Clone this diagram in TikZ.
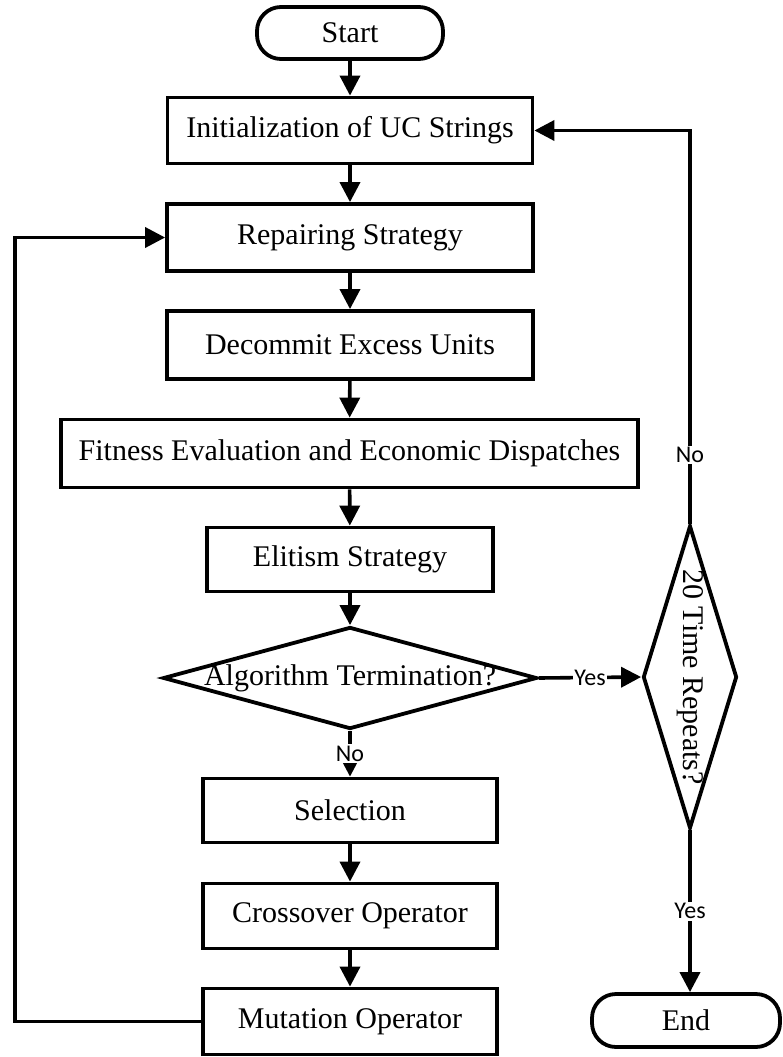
\documentclass[tikz,border=0pt]{standalone}
\usepackage{fontspec}
\setmainfont{Liberation Serif}
\newfontfamily\labelfont{Carlito}
\usetikzlibrary{arrows.meta,shapes.geometric}

\begin{document}
\begin{tikzpicture}[x=1pt,y=-1pt,
  every node/.style={font=\fontsize{30}{36}\selectfont},
  box/.style={draw, line width=3.8pt, rectangle, inner sep=0pt},
  term/.style={draw, line width=3.8pt, rectangle, rounded corners=24pt, inner sep=0pt},
  decision/.style={draw, line width=3.8pt, diamond, inner sep=0pt},
  arr/.style={-{Triangle[length=20pt,width=20pt]}, line width=3.6pt},
  lbl/.style={fill=white, inner sep=1.5pt, font=\labelfont\fontsize{24}{26}\selectfont}]

\useasboundingbox (0,0) rectangle (782,1057);

% main column
\node[term, minimum width=186pt, minimum height=52pt] (start) at (350,33) {Start};
\node[box, minimum width=365pt, minimum height=66pt] (init) at (350,130.5) {Initialization of UC Strings};
\node[box, minimum width=366pt, minimum height=67pt] (repair) at (350,237.5) {Repairing Strategy};
\node[box, minimum width=366pt, minimum height=68pt] (decommit) at (350,345) {Decommit Excess Units};
\node[box, minimum width=577pt, minimum height=68pt] (fitness) at (349.5,453.5) {Fitness Evaluation and Economic Dispatches};
\node[box, minimum width=286pt, minimum height=64pt] (elitism) at (350,559.5) {Elitism Strategy};
\node[decision, minimum width=374pt, minimum height=102pt,
      label={center:Algorithm Termination?}] (alg) at (350,678) {};
\node[box, minimum width=294pt, minimum height=64pt] (select) at (350,810.5) {Selection};
\node[box, minimum width=294pt, minimum height=65pt] (cross) at (350,916) {Crossover Operator};
\node[box, minimum width=294pt, minimum height=66pt] (mutate) at (350,1021.5) {Mutation Operator};

% right column
\node[decision, minimum width=94pt, minimum height=303pt,
      label={[rotate=-90]center:20 Time Repeats?}] (rep) at (690,677) {};
\node[term, minimum width=188pt, minimum height=53pt] (end) at (686,1020.5) {End};

\coordinate (loopL) at (15,0);

% forward flow
\draw[arr] (start) -- (init);
\draw[arr] (init) -- (repair);
\draw[arr] (repair) -- (decommit);
\draw[arr] (decommit) -- (fitness);
\draw[arr] (fitness) -- (elitism);
\draw[arr] (elitism) -- (alg);
\draw[arr] (alg.south) -- node[lbl] {No} (select.north);
\draw[arr] (select) -- (cross);
\draw[arr] (cross) -- (mutate);
\draw[arr] (alg.east) -- node[lbl] {Yes} (rep.west);
\draw[arr] (rep.south) -- node[lbl] {Yes} (rep.south |- end.north);

% loops back
\draw[arr] (mutate.west) -- (mutate.west -| loopL) -- (repair.west -| loopL) -- (repair.west);
\draw[arr] (rep.north) -- node[lbl, pos=0.175] {No} (rep.north |- init.east) -- (init.east);
\end{tikzpicture}
\end{document}
